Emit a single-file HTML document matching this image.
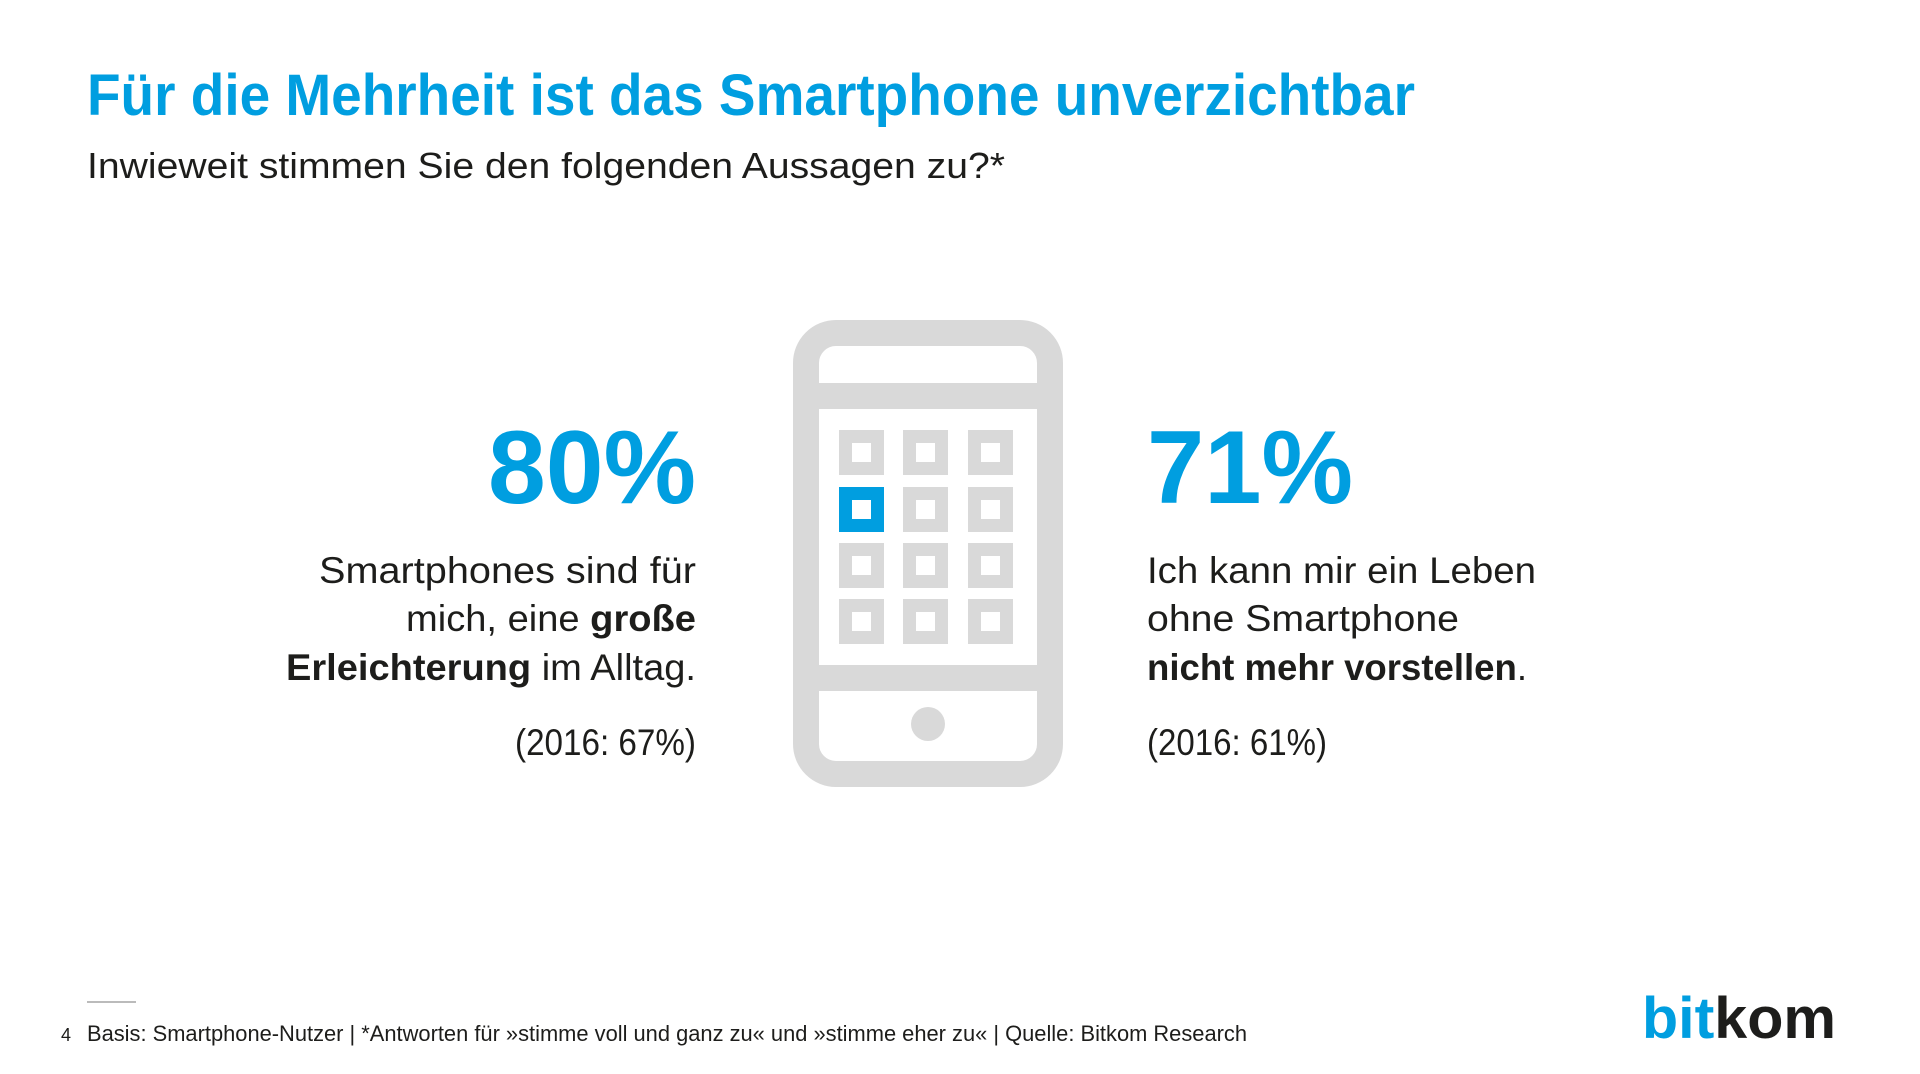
<!DOCTYPE html>
<html><head><meta charset="utf-8"><style>
html,body{margin:0;padding:0;background:#fff;}
svg{display:block;font-family:"Liberation Sans",sans-serif;}
</style></head><body>
<svg id="chart" width="1920" height="1074" viewBox="0 0 1920 1074" xmlns="http://www.w3.org/2000/svg">
<rect width="1920" height="1074" fill="#fff"/>
<text x="87" y="115" font-size="58" font-weight="bold" fill="#009ee0" textLength="1328" lengthAdjust="spacingAndGlyphs">Für die Mehrheit ist das Smartphone unverzichtbar</text>
<text x="87" y="178" font-size="36" fill="#1d1d1b" textLength="918" lengthAdjust="spacingAndGlyphs">Inwieweit stimmen Sie den folgenden Aussagen zu?*</text>

<g>
<rect x="806" y="333" width="244" height="441" rx="30" fill="none" stroke="#d9d9d9" stroke-width="26"/>
<rect x="819" y="383" width="218" height="26" fill="#d9d9d9"/>
<rect x="819" y="665" width="218" height="26" fill="#d9d9d9"/>
<circle cx="928" cy="724" r="17" fill="#d9d9d9"/>
<g id="icons"></g>
</g>

<text id="v0" x="696" y="503" font-size="104" font-weight="bold" fill="#009ee0" text-anchor="end" textLength="208" lengthAdjust="spacingAndGlyphs"></text>
<text id="v1" x="1147" y="503" font-size="104" font-weight="bold" fill="#009ee0" textLength="206" lengthAdjust="spacingAndGlyphs"></text>

<g font-size="37" fill="#1d1d1b" text-anchor="end">
<text x="696" y="583" textLength="377" lengthAdjust="spacingAndGlyphs">Smartphones sind für</text>
<text x="696" y="631" textLength="290" lengthAdjust="spacingAndGlyphs">mich, eine <tspan font-weight="bold">große</tspan></text>
<text x="696" y="680" textLength="410" lengthAdjust="spacingAndGlyphs"><tspan font-weight="bold">Erleichterung</tspan> im Alltag.</text>
<text id="p0" x="696" y="755" textLength="181" lengthAdjust="spacingAndGlyphs"></text>
</g>
<g font-size="37" fill="#1d1d1b">
<text x="1147" y="583" textLength="389" lengthAdjust="spacingAndGlyphs">Ich kann mir ein Leben</text>
<text x="1147" y="631" textLength="312" lengthAdjust="spacingAndGlyphs">ohne Smartphone</text>
<text x="1147" y="680" textLength="380" lengthAdjust="spacingAndGlyphs"><tspan font-weight="bold">nicht mehr vorstellen</tspan>.</text>
<text id="p1" x="1147" y="755" textLength="180" lengthAdjust="spacingAndGlyphs"></text>
</g>

<line x1="87" y1="1002" x2="136" y2="1002" stroke="#bbb" stroke-width="2"/>
<text x="61" y="1041" font-size="18" fill="#1d1d1b">4</text>
<text x="87" y="1041" font-size="22" fill="#1d1d1b" textLength="1160" lengthAdjust="spacingAndGlyphs">Basis: Smartphone-Nutzer | *Antworten für »stimme voll und ganz zu« und »stimme eher zu« | Quelle: Bitkom Research</text>
<text x="1642" y="1038" font-size="58" font-weight="bold" textLength="194" lengthAdjust="spacingAndGlyphs"><tspan fill="#009ee0">bit</tspan><tspan fill="#1d1d1b">kom</tspan></text>
</svg>
<script>
const values = [80, 71];
const previous = [67, 61];
const prevYear = "2016";
const colsX = [839, 903, 968];
const rowsY = [430, 487, 543, 599];
const activeIcon = [1, 0];

for (let i = 0; i < values.length; i++) {
  document.getElementById('v' + i).textContent = values[i] + '%';
  document.getElementById('p' + i).textContent = '(' + prevYear + ': ' + previous[i] + '%)';
}
const g = document.getElementById('icons');
const ns = 'http://www.w3.org/2000/svg';
rowsY.forEach((y, r) => {
  colsX.forEach((x, c) => {
    const active = r === activeIcon[0] && c === activeIcon[1];
    const rect = document.createElementNS(ns, 'rect');
    rect.setAttribute('x', x + 6.5);
    rect.setAttribute('y', y + 6.5);
    rect.setAttribute('width', 32);
    rect.setAttribute('height', 32);
    rect.setAttribute('fill', 'none');
    rect.setAttribute('stroke', active ? '#009ee0' : '#d9d9d9');
    rect.setAttribute('stroke-width', 13);
    
    
    g.appendChild(rect);
  });
});
</script>
</body></html>
